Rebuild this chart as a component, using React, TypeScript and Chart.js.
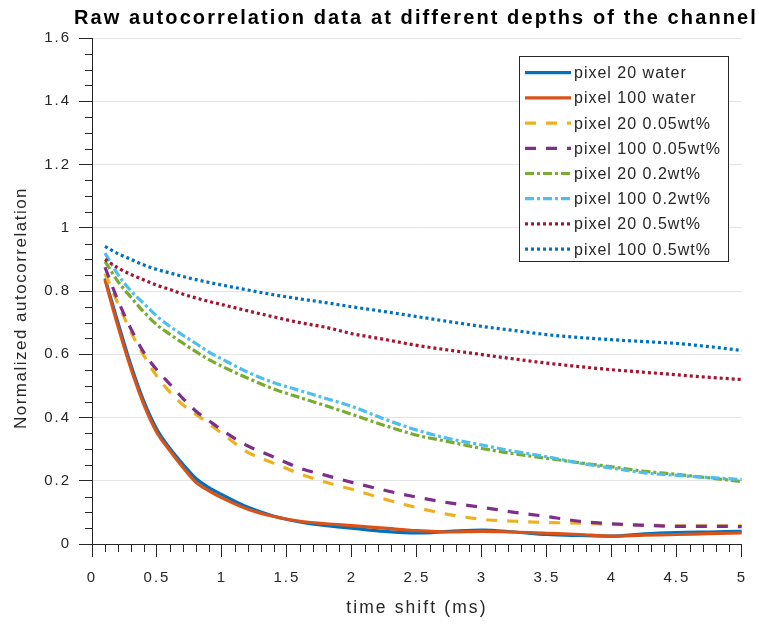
import React, { useEffect, useRef } from 'react';
import { Chart, registerables } from 'chart.js';

Chart.register(...registerables);

// ---- data ----
const timeShift = [0.1, 0.2, 0.3, 0.4, 0.5, 0.6, 0.7, 0.8, 0.9, 1.0, 1.2, 1.4, 1.6, 1.8, 2.0, 2.25, 2.5, 2.75, 3.0, 3.25, 3.5, 3.75, 4.0, 4.25, 4.5, 4.75, 5.0];

const pixel20Water = [0.84, 0.70, 0.565, 0.45, 0.362, 0.302, 0.252, 0.207, 0.178, 0.156, 0.116, 0.088, 0.07, 0.058, 0.05, 0.04, 0.035, 0.04, 0.044, 0.038, 0.03, 0.027, 0.025, 0.032, 0.036, 0.038, 0.04];
const pixel100Water = [0.835, 0.688, 0.554, 0.44, 0.352, 0.295, 0.242, 0.195, 0.168, 0.146, 0.11, 0.087, 0.072, 0.064, 0.058, 0.05, 0.042, 0.038, 0.04, 0.038, 0.034, 0.03, 0.025, 0.028, 0.03, 0.033, 0.035];
const pixel20Wt005 = [0.855, 0.76, 0.67, 0.595, 0.53, 0.48, 0.44, 0.41, 0.38, 0.35, 0.29, 0.255, 0.222, 0.195, 0.173, 0.142, 0.115, 0.093, 0.078, 0.072, 0.068, 0.066, 0.062, 0.06, 0.057, 0.057, 0.057];
const pixel100Wt005 = [0.875, 0.77, 0.68, 0.605, 0.55, 0.505, 0.46, 0.42, 0.39, 0.36, 0.31, 0.275, 0.24, 0.217, 0.195, 0.17, 0.148, 0.13, 0.116, 0.1, 0.087, 0.072, 0.064, 0.059, 0.056, 0.056, 0.055];
const pixel20Wt02 = [0.894, 0.83, 0.78, 0.733, 0.693, 0.663, 0.635, 0.608, 0.583, 0.562, 0.524, 0.49, 0.463, 0.437, 0.41, 0.375, 0.344, 0.323, 0.302, 0.285, 0.271, 0.257, 0.244, 0.23, 0.22, 0.209, 0.197];
const pixel100Wt02 = [0.92, 0.852, 0.8, 0.76, 0.72, 0.688, 0.66, 0.634, 0.607, 0.585, 0.543, 0.51, 0.485, 0.46, 0.435, 0.395, 0.36, 0.333, 0.313, 0.293, 0.276, 0.256, 0.24, 0.225, 0.217, 0.21, 0.204];
const pixel20Wt05 = [0.9, 0.873, 0.852, 0.835, 0.818, 0.805, 0.79, 0.778, 0.767, 0.757, 0.737, 0.718, 0.7, 0.685, 0.665, 0.647, 0.628, 0.613, 0.599, 0.585, 0.572, 0.561, 0.551, 0.543, 0.535, 0.527, 0.52];
const pixel100Wt05 = [0.941, 0.918, 0.9, 0.882, 0.868, 0.857, 0.846, 0.836, 0.827, 0.819, 0.803, 0.788, 0.775, 0.763, 0.75, 0.735, 0.719, 0.703, 0.688, 0.675, 0.662, 0.653, 0.646, 0.64, 0.634, 0.624, 0.612];

const seriesLabels = ['pixel 20 water', 'pixel 100 water', 'pixel 20 0.05wt%', 'pixel 100 0.05wt%', 'pixel 20 0.2wt%', 'pixel 100 0.2wt%', 'pixel 20 0.5wt%', 'pixel 100 0.5wt%'];
const seriesValues = [pixel20Water, pixel100Water, pixel20Wt005, pixel100Wt005, pixel20Wt02, pixel100Wt02, pixel20Wt05, pixel100Wt05];

const titleText = 'Raw autocorrelation data at different depths of the channel';
const xTitle = 'time shift (ms)';
const yTitle = 'Normalized autocorrelation';

const xMin = 0, xMax = 5, xStep = 0.5, xMinorStep = 0.1;
const yMin = 0, yMax = 1.6, yStep = 0.2, yMinorStep = 0.05;

// ---- styles ----
const colors = ['#0072BD', '#D95319', '#EDB120', '#7E2F8E', '#77AC30', '#4DBEEE', '#A2142F', '#0072BD'];
const dashes: number[][] = [[], [], [11, 10], [11, 10], [9, 3, 3, 3], [9, 3, 3, 3], [3, 3], [3, 3]];
const AXIS = '#262626';
const GRID = '#e3e3e3';
const FONT = "'Liberation Sans', Arial, Helvetica, sans-serif";

const fmt = (v: number) => String(Number(Number(v).toFixed(2)));

const decor = {
  id: 'decor',
  beforeLayout(chart: any) {
    chart.ctx.letterSpacing = '2px';
  },
  beforeDraw(chart: any) {
    chart.ctx.letterSpacing = '2px';
  },
  afterDraw(chart: any) {
    const { ctx, chartArea, scales } = chart;
    const xs = scales.x;
    const ys = scales.y;
    ctx.save();
    ctx.letterSpacing = '0px';
    ctx.setLineDash([]);
    // minor ticks
    ctx.strokeStyle = AXIS;
    ctx.lineWidth = 1;
    ctx.beginPath();
    const ny = Math.round((yMax - yMin) / yMinorStep);
    const perY = Math.round(yStep / yMinorStep);
    for (let k = 0; k <= ny; k++) {
      if (k % perY === 0) continue;
      const py = Math.round(ys.getPixelForValue(yMin + k * yMinorStep)) + 0.5;
      ctx.moveTo(chartArea.left - 7, py);
      ctx.lineTo(chartArea.left, py);
    }
    const nx = Math.round((xMax - xMin) / xMinorStep);
    const perX = Math.round(xStep / xMinorStep);
    for (let k = 0; k <= nx; k++) {
      if (k % perX === 0) continue;
      const px = Math.round(xs.getPixelForValue(xMin + k * xMinorStep)) + 0.5;
      ctx.moveTo(px, chartArea.bottom);
      ctx.lineTo(px, chartArea.bottom + 8);
    }
    ctx.stroke();

    // title
    const cx = (chartArea.left + chartArea.right) / 2;
    ctx.fillStyle = '#000';
    ctx.font = `bold 20px ${FONT}`;
    ctx.letterSpacing = '2.1px';
    ctx.textAlign = 'center';
    ctx.textBaseline = 'middle';
    ctx.fillText(titleText, cx - 1, 18);

    // axis titles
    ctx.fillStyle = AXIS;
    ctx.font = `17.5px ${FONT}`;
    ctx.letterSpacing = '2.1px';
    ctx.fillText(xTitle, cx, 608);
    ctx.font = `17px ${FONT}`;
    ctx.letterSpacing = '1.5px';
    ctx.save();
    ctx.translate(21, 308);
    ctx.rotate(-Math.PI / 2);
    ctx.fillText(yTitle, 0, 0);
    ctx.restore();

    // legend
    const bx = 519.5, by = 56.5, bw = 209, bh = 205;
    ctx.fillStyle = '#fff';
    ctx.fillRect(bx, by, bw, bh);
    ctx.strokeStyle = AXIS;
    ctx.lineWidth = 1;
    ctx.strokeRect(bx, by, bw, bh);
    ctx.font = `16px ${FONT}`;
    ctx.letterSpacing = '1px';
    ctx.textAlign = 'left';
    ctx.textBaseline = 'middle';
    chart.data.datasets.forEach((ds: any, i: number) => {
      const ry = 72.7 + i * 25.2;
      ctx.strokeStyle = ds.borderColor;
      ctx.lineWidth = ds.borderWidth;
      ctx.setLineDash(ds.borderDash || []);
      ctx.beginPath();
      ctx.moveTo(525, ry);
      ctx.lineTo(571, ry);
      ctx.stroke();
      ctx.setLineDash([]);
      ctx.fillStyle = AXIS;
      ctx.fillText(ds.label, 574, ry + 1);
    });
    ctx.restore();
  },
};

export default function App() {
  const ref = useRef<HTMLCanvasElement>(null);
  useEffect(() => {
    if (!ref.current) return;
    Chart.defaults.font.family = FONT;
    const datasets = seriesValues.map((vals, i) => ({
      label: seriesLabels[i],
      data: timeShift.map((t, j) => ({ x: t, y: vals[j] })),
      borderColor: colors[i],
      backgroundColor: colors[i],
      borderWidth: 3.2,
      borderDash: dashes[i],
      borderCapStyle: 'butt' as const,
      pointRadius: 0,
      fill: false,
      cubicInterpolationMode: 'monotone' as const,
      order: seriesValues.length - i,
    }));
    const chart = new Chart(ref.current, {
      type: 'line',
      data: { datasets },
      plugins: [decor],
      options: {
        animation: false,
        responsive: false,
        devicePixelRatio: 1,
        layout: { padding: { top: 38, right: 11, left: 0, bottom: 0 } },
        plugins: { legend: { display: false }, tooltip: { enabled: false }, title: { display: false } },
        scales: {
          x: {
            type: 'linear',
            min: xMin,
            max: xMax,
            afterFit: (s: any) => { s.height = 83; },
            ticks: { stepSize: xStep, color: AXIS, font: { size: 15 }, padding: 12, maxRotation: 0, callback: (v: any) => fmt(v) },
            grid: { drawOnChartArea: false, drawTicks: true, tickLength: 13, tickColor: AXIS, color: AXIS },
            border: { display: true, color: AXIS, width: 1 },
          },
          y: {
            type: 'linear',
            min: yMin,
            max: yMax,
            afterFit: (s: any) => { s.width = 92; },
            ticks: { stepSize: yStep, color: AXIS, font: { size: 15 }, padding: 8, callback: (v: any) => fmt(v) },
            grid: { drawOnChartArea: true, drawTicks: true, tickLength: 13, tickColor: AXIS, color: GRID, lineWidth: 1 },
            border: { display: true, color: AXIS, width: 1 },
          },
        },
      },
    });
    return () => chart.destroy();
  }, []);
  return (
    <div style={{ position: 'fixed', left: 0, top: 0, width: 759, height: 627, background: '#fff' }}>
      <canvas ref={ref} width={759} height={627} style={{ width: 759, height: 627, display: 'block' }} />
    </div>
  );
}
